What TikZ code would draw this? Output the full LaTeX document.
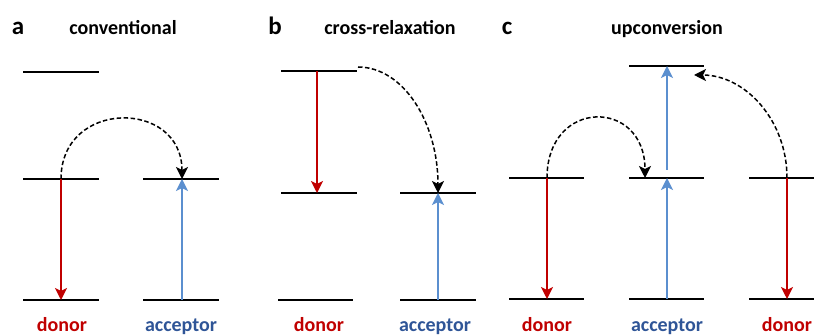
\documentclass[tikz,border=0pt]{standalone}
\usepackage{fontspec}
\setmainfont{Carlito}
\usetikzlibrary{arrows.meta}
\definecolor{dred}{HTML}{C00000}
\definecolor{lblue}{HTML}{5B8FCF}
\definecolor{tblue}{HTML}{2F5597}
\begin{document}
\begin{tikzpicture}[x=1pt,y=-1pt,
  tip/.style={-{Stealth[inset=3pt,length=12pt,width=12pt]}},
  level/.style={line width=1.8pt},
  emit/.style={draw=dred,line width=1.5pt,tip},
  absorb/.style={draw=lblue,line width=1.5pt,tip},
  transfer/.style={draw=black,line width=1.5pt,dash pattern=on 4.5pt off 2.5pt,tip},
  title/.style={font=\bfseries\fontsize{20}{22}\selectfont,anchor=base},
  panel/.style={font=\bfseries\fontsize{25}{28}\selectfont,anchor=base},
  dlabel/.style={font=\bfseries\fontsize{20}{22}\selectfont,anchor=base,text=dred},
  alabel/.style={font=\bfseries\fontsize{20}{22}\selectfont,anchor=base,text=tblue}]
\useasboundingbox (0,0) rectangle (814,336);
\clip (0,0) rectangle (814,336);
% ---------- panel a ----------
\node[panel] (pa) at (18,35) {a};
\node[title] (ta) at (123,35) {conventional};
\draw[level] (23,72) -- (99,72);
\draw[level] (23,179) -- (99,179);
\draw[level] (23,300) -- (99,300);
\draw[level] (143,179) -- (219,179);
\draw[level] (143,300) -- (219,300);
\coordinate (a1) at (61,179);
\coordinate (a0) at (61,300);
\coordinate (b1) at (182,179);
\coordinate (b0) at (182,300);
\draw[emit] (a1) -- (a0);
\draw[absorb] (b0) -- (b1);
\draw[transfer] (a1) .. controls (61,99) and (182,99) .. (b1);
\node[dlabel] (da) at (62,332) {donor};
\node[alabel] (aa) at (181,332) {acceptor};
% ---------- panel b ----------
\node[panel] (pb) at (275,35) {b};
\node[title] (tb) at (390,35) {cross-relaxation};
\draw[level] (281,71) -- (357,71);
\draw[level] (281,193) -- (357,193);
\draw[level] (278,300) -- (353,300);
\draw[level] (400,193) -- (476,193);
\draw[level] (400,300) -- (476,300);
\coordinate (c2) at (317,71);
\coordinate (c1) at (317,193);
\coordinate (e1) at (438,193);
\coordinate (e0) at (438,300);
\coordinate (cs) at (358,67);
\draw[emit] (c2) -- (c1);
\draw[absorb] (e0) -- (e1);
\draw[transfer] (cs) .. controls (403,67) and (438,122) .. (e1);
\node[dlabel] (db) at (319,332) {donor};
\node[alabel] (ab) at (435,332) {acceptor};
% ---------- panel c ----------
\node[panel] (pc) at (507,35) {c};
\node[title] (tc) at (667,35) {upconversion};
\draw[level] (509,178) -- (584,178);
\draw[level] (509,299) -- (584,299);
\draw[level] (629,66) -- (704,66);
\draw[level] (629,178) -- (704,178);
\draw[level] (629,299) -- (704,299);
\draw[level] (749,178) -- (824,178);
\draw[level] (749,299) -- (824,299);
\coordinate (f1) at (547,178);
\coordinate (f0) at (547,299);
\coordinate (g2) at (667,66);
\coordinate (g1) at (667,178);
\coordinate (g0) at (667,299);
\coordinate (h1) at (787,178);
\coordinate (h0) at (787,299);
\coordinate (gt) at (645,178);
\coordinate (ge) at (694,75);
\draw[emit] (f1) -- (f0);
\draw[emit] (h1) -- (h0);
\draw[absorb] (g0) -- (g1);
\draw[absorb,shorten <=8pt] (g1) -- (g2);
\draw[transfer] (f1) .. controls (547,98) and (645,98) .. (gt);
\draw[transfer] (h1) .. controls (787,120) and (745,75) .. (ge);
\node[dlabel] (dc1) at (547,332) {donor};
\node[alabel] (ac) at (667,332) {acceptor};
\node[dlabel] (dc2) at (787,332) {donor};
\end{tikzpicture}
\end{document}
